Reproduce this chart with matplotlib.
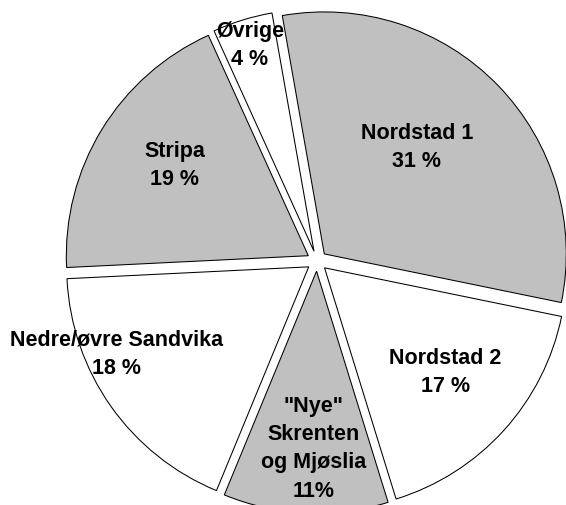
import numpy as np
import matplotlib
matplotlib.use("Agg")
import matplotlib.pyplot as plt

plt.rcParams['font.family'] = ['Liberation Sans', 'DejaVu Sans']

names = ['Nordstad 1', 'Nordstad 2', '"Nye"\nSkrenten\nog Mjøslia', 'Nedre/øvre Sandvika', 'Stripa', 'Øvrige']
shares = [31, 17, 11, 18, 19, 4]
pct_text = ['31 %', '17 %', '11%', '18 %', '19 %', '4 %']

colors = ['#c0c0c0', 'white', '#c0c0c0', 'white', '#c0c0c0', 'white']
# label radius (in pie radii) and angular nudge from the wedge middle, degrees
label_r = [0.628, 0.70, 0.772, 0.912, 0.71, 0.938]
label_da = [4.7, 1.6, 1.5, -10.5, -2.7, 0.0]

fig = plt.figure(figsize=(5.66, 5.06), dpi=100)
ax = fig.add_axes([0, 0, 1, 1])

wedges, _ = ax.pie(shares, colors=colors, startangle=100, counterclock=False,
                   explode=[0.042] * len(shares),
                   wedgeprops=dict(edgecolor='black', linewidth=0.75))

for w, name, pct, r, da in zip(wedges, names, pct_text, label_r, label_da):
    mid = np.deg2rad((w.theta1 + w.theta2) / 2 + da)
    ax.text(r * np.cos(mid), r * np.sin(mid), name + '\n' + pct,
            ha='center', va='center', fontsize=15.5, fontweight='bold',
            linespacing=1.45)

# pie centre sits at (317, 262) px, radius 242 px
R = 242.0
ax.set_xlim(-317.0 / R, (566 - 317.0) / R)
ax.set_ylim(-(506 - 262) / R, 262 / R)
ax.set_aspect('auto')
ax.axis('off')

fig.savefig('out.png', dpi=100)
